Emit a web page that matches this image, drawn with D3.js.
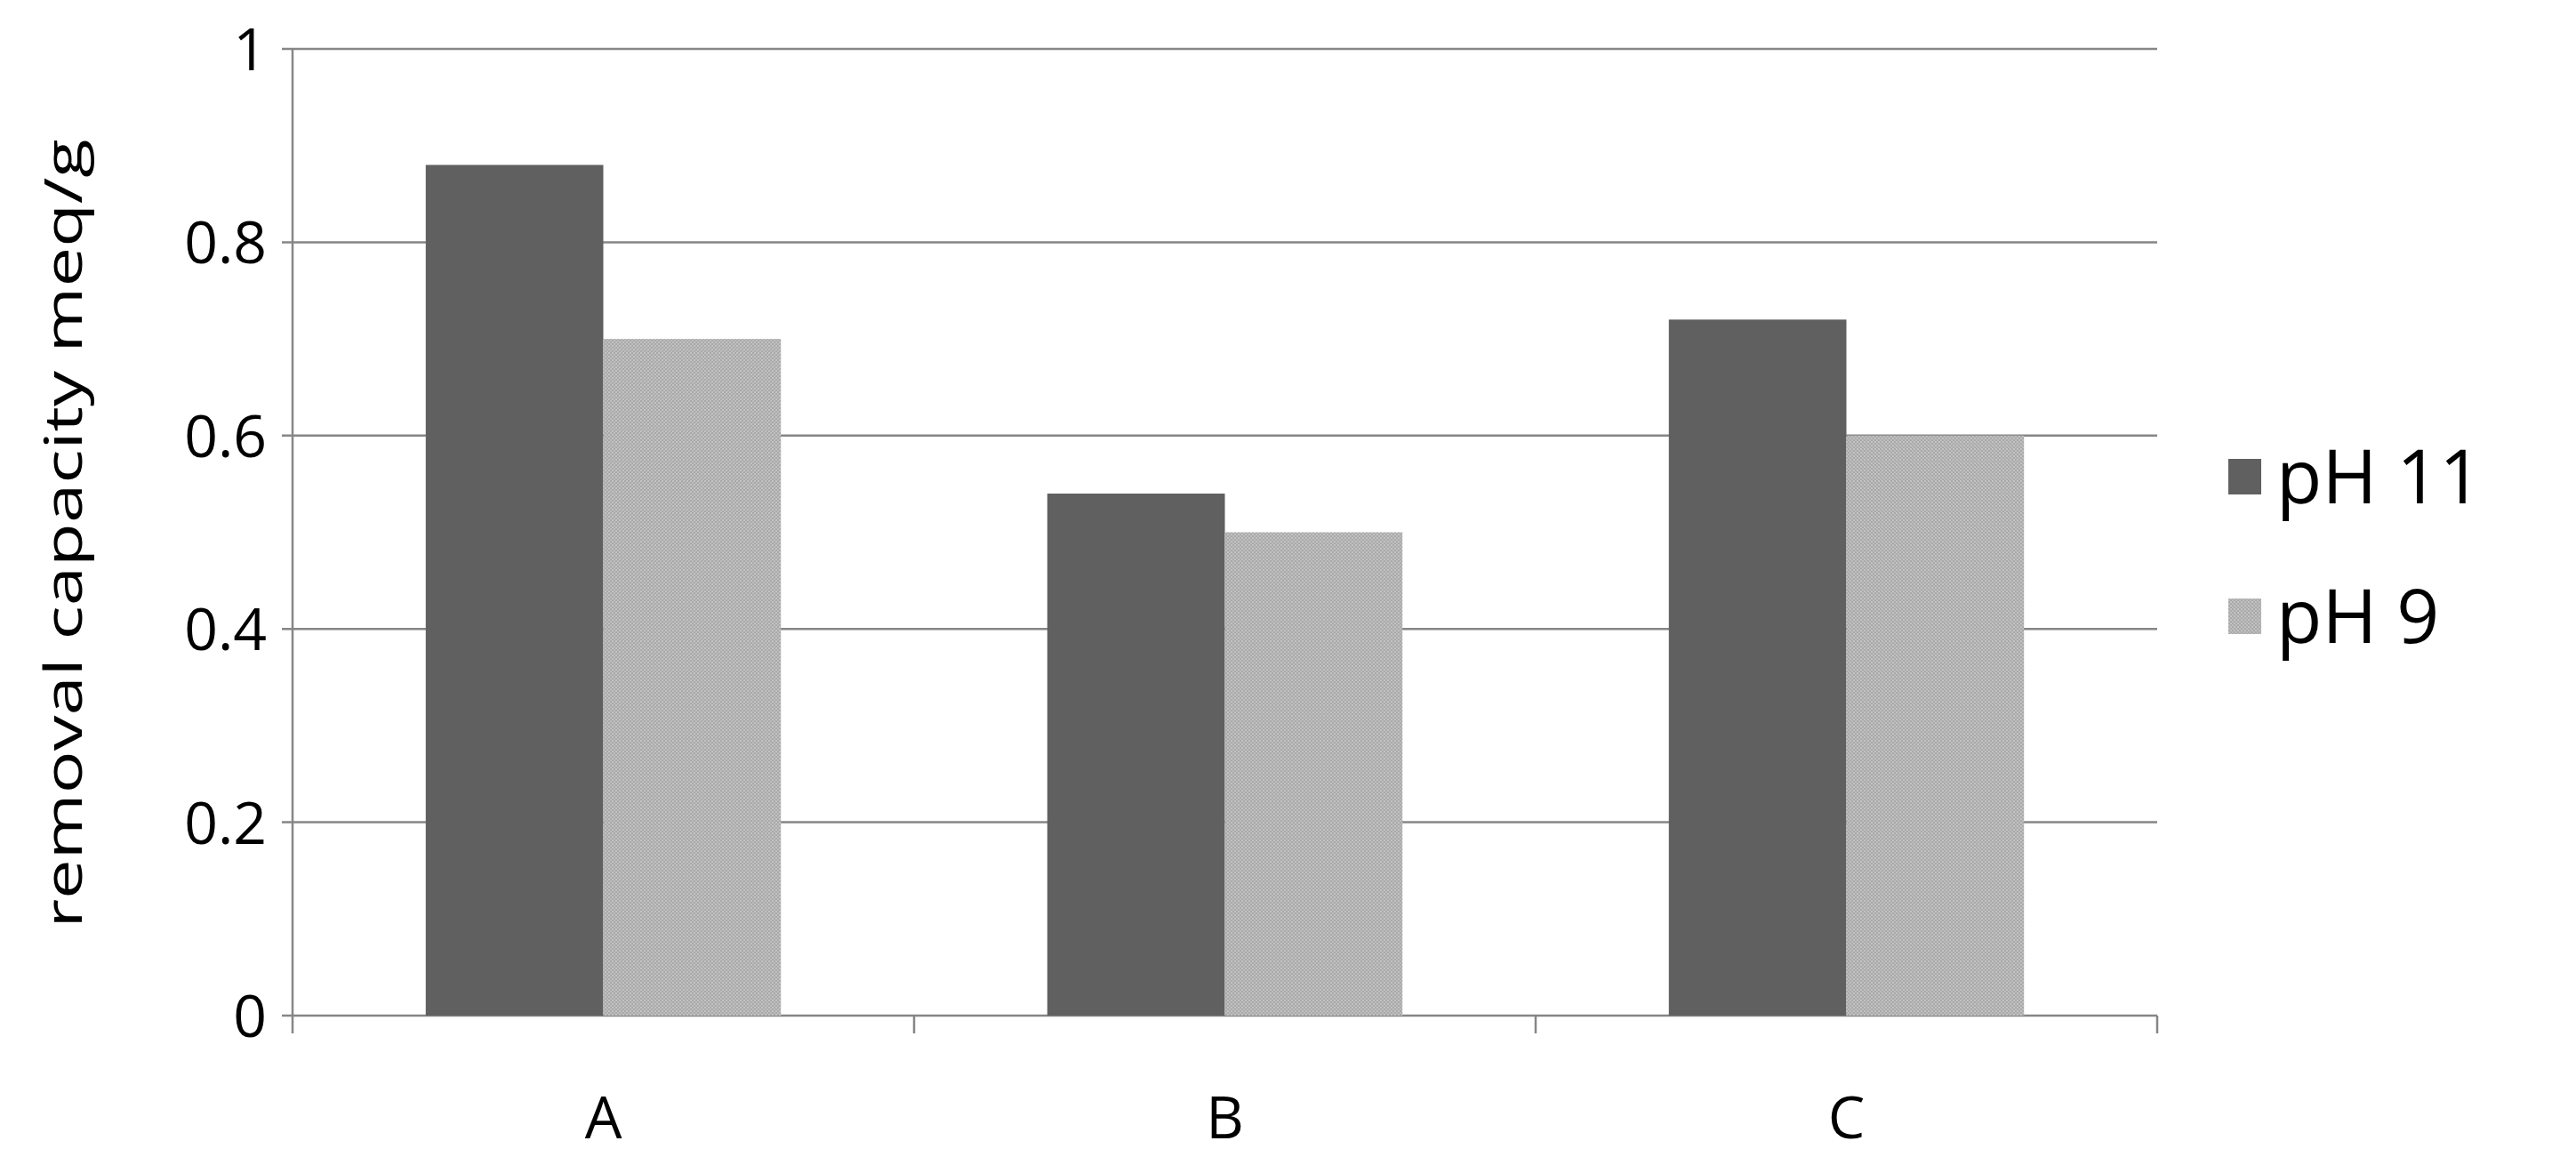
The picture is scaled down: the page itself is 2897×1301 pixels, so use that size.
<!DOCTYPE html>
<html><head><meta charset="utf-8">
<script src="https://cdn.jsdelivr.net/npm/d3@7"></script>
<style>body{margin:0;background:#fff}svg{display:block}text{font-family:"Liberation Sans Narrow","Open Sans",sans-serif;fill:#000}</style>
</head><body>
<script>
const categories = ["A","B","C"];
const seriesNames = ["pH 11","pH 9"];
const pH11 = [0.88,0.54,0.72];
const pH9 = [0.70,0.50,0.60];
const yTicks = [0,0.2,0.4,0.6,0.8,1];

const W=2897,H=1301,L=329,R=2426,T=55,B=1142;
const svg=d3.select("body").append("svg").attr("width",W).attr("height",H);
const defs=svg.append("defs");
const pat=defs.append("pattern").attr("id","tex").attr("width",4).attr("height",4).attr("patternUnits","userSpaceOnUse");
pat.append("rect").attr("width",4).attr("height",4).attr("fill","#a9a9a9");
pat.append("rect").attr("x",0).attr("y",0).attr("width",2).attr("height",2).attr("fill","#c3c3c3");
pat.append("rect").attr("x",2).attr("y",2).attr("width",2).attr("height",2).attr("fill","#bdbdbd");
const fills=["#606060","url(#tex)"];

const x=d3.scaleBand().domain(categories).range([L,R]);
const y=d3.scaleLinear().domain([0,1]).range([B,T]);
const xs=d3.scaleBand().domain(seriesNames).range([0,x.bandwidth()]).paddingInner(0).paddingOuter(0.75);

svg.append("g").selectAll("line").data(yTicks).join("line")
 .attr("x1",L-12).attr("x2",R).attr("y1",d=>y(d)).attr("y2",d=>y(d))
 .attr("stroke","#868686").attr("stroke-width",2.5);
svg.append("line").attr("x1",L).attr("x2",L).attr("y1",T).attr("y2",B).attr("stroke","#868686").attr("stroke-width",2.5);
svg.append("g").selectAll("line").data([0,1,2,3]).join("line")
 .attr("x1",i=>L+i*x.step()).attr("x2",i=>L+i*x.step()).attr("y1",B).attr("y2",B+20)
 .attr("stroke","#868686").attr("stroke-width",2.5);

const vals=[pH11,pH9];
seriesNames.forEach((s,si)=>{
 svg.append("g").selectAll("rect").data(categories).join("rect")
  .attr("x",c=>x(c)+xs(s)).attr("width",xs.bandwidth())
  .attr("y",(c,i)=>y(vals[si][i])).attr("height",(c,i)=>B-y(vals[si][i]))
  .attr("fill",fills[si]);
});
svg.append("g").selectAll("text").data(yTicks).join("text")
 .attr("x",300).attr("y",d=>y(d)+24).attr("text-anchor","end").attr("font-size",66).text(d=>d);
svg.append("g").selectAll("text").data(categories).join("text")
 .attr("x",c=>x(c)+x.bandwidth()/2).attr("y",1280).attr("text-anchor","middle").attr("font-size",66).text(c=>c);
svg.append("text").attr("transform","translate(92,600) rotate(-90)").attr("text-anchor","middle")
 .attr("font-size",58).attr("textLength",887).attr("lengthAdjust","spacingAndGlyphs")
 .style("font-family","'Open Sans',sans-serif").text("removal capacity meq/g");
seriesNames.forEach((s,i)=>{
 const ly=[536,693][i];
 svg.append("rect").attr("x",2506).attr("y",ly-20).attr("width",37).attr("height",40).attr("fill",fills[i]);
 svg.append("text").attr("x",2560).attr("y",ly+30).attr("font-size",84).text(s);
});
</script>
</body></html>
